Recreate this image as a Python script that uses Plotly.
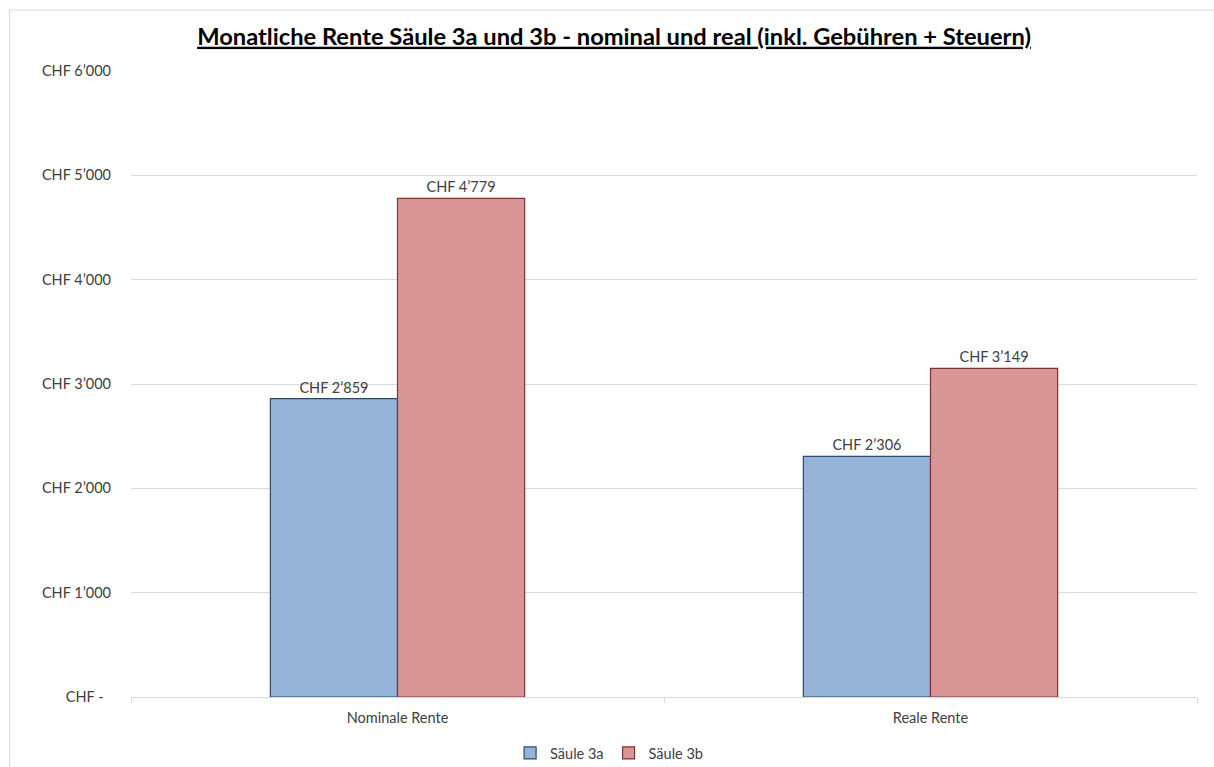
import plotly.graph_objects as go

categories = ["Nominale Rente", "Reale Rente"]
series_names = ["Säule 3a", "Säule 3b"]
values_3a = [2859, 2306]
values_3b = [4779, 3149]
tick_vals = [0, 1000, 2000, 3000, 4000, 5000, 6000]
tick_text = ["CHF -\u00a0\u00a0", "CHF 1’000", "CHF 2’000", "CHF 3’000", "CHF 4’000", "CHF 5’000", "CHF 6’000"]

def fmt(v):
    return "CHF " + f"{v:,}".replace(",", "’")

FONT = "Lato, Calibri, sans-serif"
TXT = "#404040"
FS = 14.5

fig = go.Figure()
fig.add_trace(go.Bar(
    name=series_names[0], x=categories, y=values_3a,
    marker=dict(color="#95B3D7", line=dict(color="#2B4A70", width=1.2)),
    text=[fmt(v) for v in values_3a], textposition="outside",
    textfont=dict(family=FONT, size=FS, color=TXT), cliponaxis=False,
))
fig.add_trace(go.Bar(
    name=series_names[1], x=categories, y=values_3b,
    marker=dict(color="#D99694", line=dict(color="#7A3432", width=1.2)),
    text=[fmt(v) for v in values_3b], textposition="outside",
    textfont=dict(family=FONT, size=FS, color=TXT), cliponaxis=False,
))

fig.update_layout(
    width=1214, height=767,
    margin=dict(l=131, r=17, t=71, b=70, autoexpand=False),
    paper_bgcolor="white", plot_bgcolor="white",
    font=dict(family=FONT, size=FS, color=TXT),
    barmode="group", bargap=0.523, bargroupgap=0,
    title=dict(text="<b><u>Monatliche Rente Säule 3a und 3b - nominal und real (inkl. Gebühren + Steuern)</u></b>",
               x=0.5058, xanchor="center", y=0.9525, yanchor="middle",
               font=dict(family=FONT, size=23.7, color="#000000")),
    legend=dict(orientation="h", x=0.4485, xanchor="center", y=-0.0895, yanchor="middle",
                font=dict(family=FONT, size=FS, color=TXT), itemwidth=30,
                traceorder="normal"),
    showlegend=True,
)
fig.update_xaxes(
    type="category", showline=True, linecolor="#D9D9D9", linewidth=1,
    ticks="outside", tickson="boundaries", ticklen=5, tickcolor="#D9D9D9",
    showgrid=False, tickfont=dict(family=FONT, size=FS, color=TXT),
    ticklabelstandoff=8,
)
fig.update_yaxes(
    range=[0, 6000], tickvals=tick_vals, ticktext=tick_text,
    showgrid=True, gridcolor="#D9D9D9", gridwidth=1, zeroline=False,
    showline=False, ticks="", ticklabelstandoff=19,
    tickfont=dict(family=FONT, size=FS, color=TXT),
)
fig.add_shape(type="rect", xref="paper", yref="paper",
              x0=-0.114, x1=1.1, y0=-0.2, y1=1.0974,
              line=dict(color="#D9D9D9", width=1), fillcolor="rgba(0,0,0,0)", layer="below")

fig.write_html("out.html")
